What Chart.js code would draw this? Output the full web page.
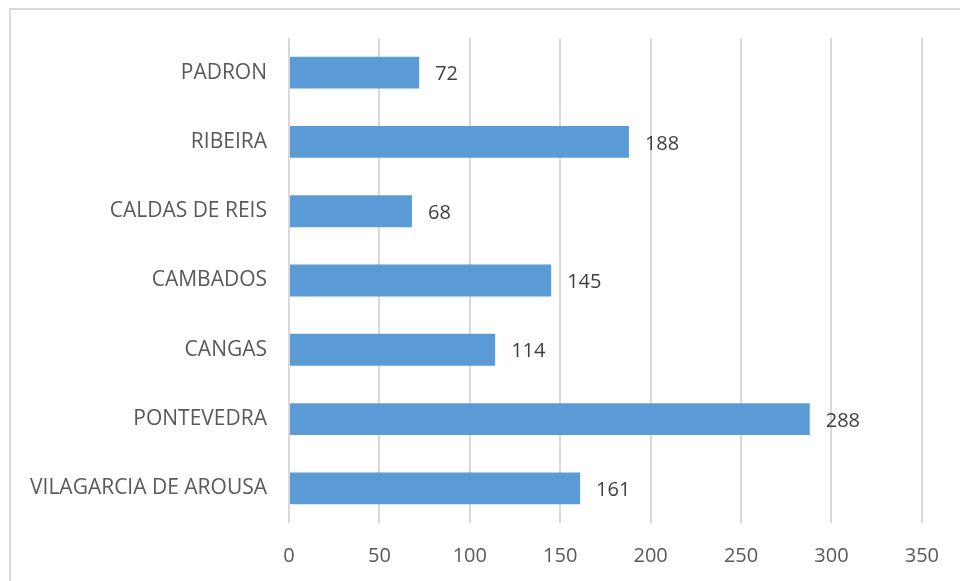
<!DOCTYPE html>
<html>
<head>
<meta charset="utf-8">
<script src="https://cdn.jsdelivr.net/npm/chart.js@4.4.1/dist/chart.umd.min.js"></script>
<style>
    html, body { margin: 0; padding: 0; background: #fff; }
    #wrap { position: relative; width: 960px; height: 581px; overflow: hidden; }
    #frame { position: absolute; left: 9px; top: 8px; width: 1000px; height: 620px; border: 2px solid #d9d9d9; box-sizing: border-box; }
    #wrap canvas { position: absolute; left: 0; top: 0; }
</style>
</head>
<body>
<div id="wrap">
    <div id="frame"></div>
    <canvas id="chart" width="960" height="581"></canvas>
</div>
<script>
// dữ liệu biểu đồ
const towns = ["PADRON", "RIBEIRA", "CALDAS DE REIS", "CAMBADOS", "CANGAS", "PONTEVEDRA", "VILAGARCIA DE AROUSA"];
const counts = [72, 188, 68, 145, 114, 288, 161];
const xMin = 0;
const xMax = 350;
const xStep = 50;

const fontFamily = "'Open Sans', sans-serif";

// vẽ số bên phải mỗi thanh
const valueLabels = {
    id: 'valueLabels',
    afterDatasetsDraw(chart) {
        const ctx = chart.ctx;
        const meta = chart.getDatasetMeta(0);
        ctx.save();
        ctx.font = "20px " + fontFamily;
        ctx.fillStyle = "#404040";
        ctx.textAlign = "left";
        ctx.textBaseline = "middle";
        meta.data.forEach(function(bar, i) {
            ctx.fillText(String(counts[i]), bar.x + 16, bar.y + 2);
        });
        ctx.restore();
    }
};

new Chart(document.getElementById('chart'), {
    type: 'bar',
    data: {
        labels: towns,
        datasets: [{
            data: counts,
            backgroundColor: '#5b9bd5',
            borderWidth: 0,
            barPercentage: 0.92,
            categoryPercentage: 0.5
        }]
    },
    options: {
        indexAxis: 'y',
        responsive: false,
        animation: false,
        layout: { padding: { top: 38, right: 37, left: 0, bottom: 0 } },
        plugins: {
            legend: { display: false },
            tooltip: { enabled: false }
        },
        scales: {
            x: {
                min: xMin,
                max: xMax,
                ticks: {
                    stepSize: xStep,
                    padding: 21,
                    color: '#595959',
                    font: { family: fontFamily, size: 20 }
                },
                grid: { color: '#d9d9d9', lineWidth: 2, drawTicks: false },
                border: { display: false },
                afterFit: function(s) { s.height = 58; }
            },
            y: {
                ticks: {
                    padding: 22,
                    color: '#595959',
                    font: { family: fontFamily, size: 21 }
                },
                grid: { display: false, drawTicks: false },
                border: { display: false },
                afterFit: function(s) { s.width = 289; }
            }
        }
    },
    plugins: [valueLabels]
});
</script>
</body>
</html>
